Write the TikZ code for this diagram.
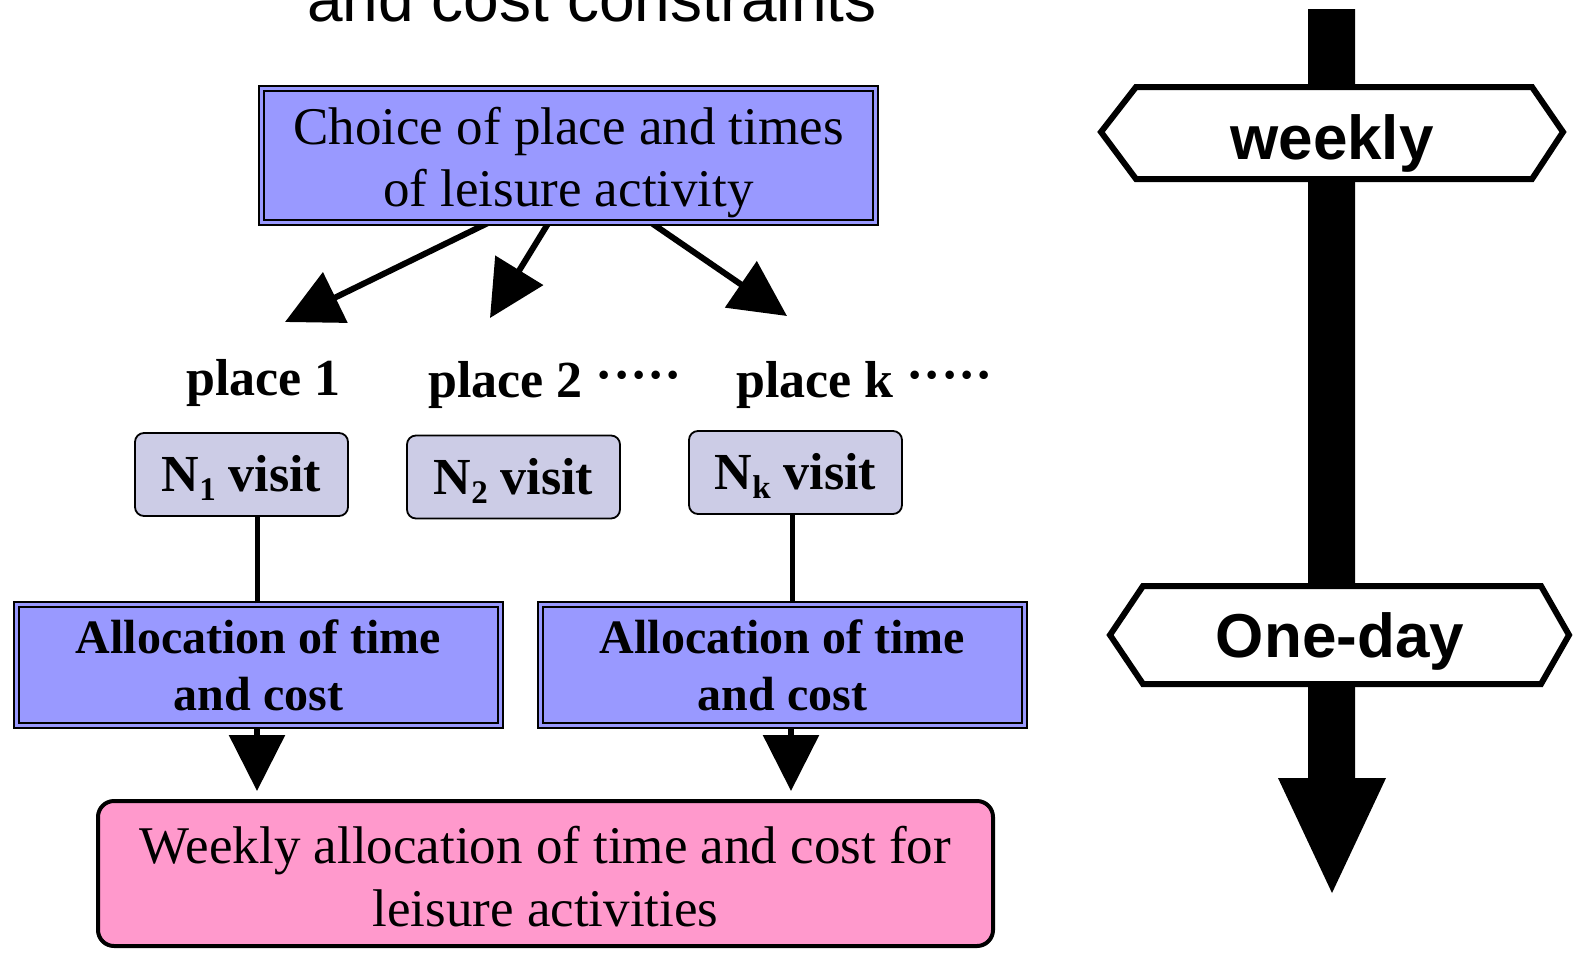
\documentclass[tikz,border=0pt]{standalone}
\usepackage{fontspec}
\setmainfont{Liberation Serif}
\setsansfont{Liberation Sans}
\usetikzlibrary{arrows.meta,calc}
\definecolor{boxblue}{RGB}{153,153,255}
\definecolor{visitgray}{RGB}{204,204,230}
\definecolor{pinkbox}{RGB}{255,153,204}
\begin{document}
\begin{tikzpicture}[x=1pt,y=-1pt,
  dblbox/.style={draw=black,line width=2.2pt,double=boxblue,double distance=2.6pt,fill=boxblue,inner sep=0pt,align=center},
  visitbox/.style={draw=black,line width=1.8pt,fill=visitgray,rounded corners=9pt,minimum width=213pt,minimum height=83pt,inner sep=0pt,font=\bfseries\fontsize{52}{60}\selectfont,text height=34pt,text depth=0pt},
  placelbl/.style={font=\bfseries\fontsize{52}{60}\selectfont,inner sep=0pt,anchor=base west},
  bigarrow/.style={line width=6pt,-{Triangle[length=56pt,width=55pt]}},
  link/.style={line width=5pt},
  sign/.style={draw=black,line width=6pt,fill=white,line join=miter},
  signtext/.style={font=\sffamily\bfseries\fontsize{62}{70}\selectfont,inner sep=0pt},
]
\useasboundingbox (0,0) rectangle (1573,953);
\clip (0,0) rectangle (1573,953);

% clipped title
\node[font=\sffamily\fontsize{64}{70}\selectfont,inner sep=0pt,anchor=base] (title) at (592,21) {and cost constraints};

% arrows from the top box
\coordinate (s1) at (490,222);
\coordinate (s2) at (549,222);
\coordinate (s3) at (650,222);
\coordinate (t1) at (285,322);
\coordinate (t2) at (490,318);
\coordinate (t3) at (787,316);
\draw[bigarrow] (s1) -- (t1);
\draw[bigarrow] (s2) -- (t2);
\draw[bigarrow] (s3) -- (t3);

% top box
\node[dblbox,minimum width=614pt,minimum height=134pt] (choice) at (568.5,155.5) {};
\node[align=center,inner sep=0pt,font=\fontsize{53}{62}\selectfont] (choicetxt) at (568.5,163)
  {Choice of place and times\\of leisure activity};

% place labels
\node[placelbl] (p1) at (186,395) {place 1};
\node[placelbl] (p2) at (428,397) {place 2 \raisebox{5pt}{·····}};
\node[placelbl] (pk) at (736,397) {place k \raisebox{5pt}{·····}};

% visit boxes
\node[visitbox] (n1) at (241.5,474.5) {N\raisebox{-9pt}{\fontsize{33}{33}\selectfont 1} visit};
\node[visitbox] (n2) at (513.5,477) {N\raisebox{-9pt}{\fontsize{33}{33}\selectfont 2} visit};
\node[visitbox] (nk) at (795.5,472.5) {N\raisebox{-9pt}{\fontsize{33}{33}\selectfont k} visit};

% allocation boxes
\node[dblbox,minimum width=484pt,minimum height=121pt,font=\bfseries\fontsize{48}{57}\selectfont] (al1) at (258.5,665)
  {Allocation of time\\and cost};
\node[dblbox,minimum width=484pt,minimum height=121pt,font=\bfseries\fontsize{48}{57}\selectfont] (al2) at (782.5,665)
  {Allocation of time\\and cost};

% pink box
\node[draw=black,line width=4pt,fill=pinkbox,rounded corners=16pt,minimum width=895pt,minimum height=145pt,inner sep=0pt] (week) at (545.5,873.5) {};
\node[align=center,inner sep=0pt,font=\fontsize{53}{63}\selectfont] (weektxt) at (545.5,877)
  {Weekly allocation of time and cost for\\leisure activities};

% links
\draw[link] ($(al1.north)+(-1.5,0)$) -- ($(al1.north |- n1.south)+(-1.5,0)$);
\draw[link] ($(al2.north)+(9.5,0)$) -- ($(al2.north |- nk.south)+(9.5,0)$);
\draw[bigarrow] ($(al1.south)+(-1.5,2)$) -- ($(al1.south |- week.north)+(-1.5,-8)$);
\draw[bigarrow] ($(al2.south)+(8.5,2)$) -- ($(al2.south |- week.north)+(8.5,-8)$);

% time axis
\fill[black] (1308,9) -- (1355,9) -- (1355,778) -- (1386,778) -- (1332,893) -- (1278,778) -- (1308,778) -- cycle;
\draw[sign] (1101,132) -- (1136,87) -- (1532,87) -- (1563,132) -- (1532,179) -- (1136,179) -- cycle;
\node[signtext] (weekly) at (1332,143) {weekly};
\draw[sign] (1110,635) -- (1143,586) -- (1541,586) -- (1569,635) -- (1541,684) -- (1143,684) -- cycle;
\node[signtext] (oneday) at (1340,641) {One-day};
\end{tikzpicture}
\end{document}
